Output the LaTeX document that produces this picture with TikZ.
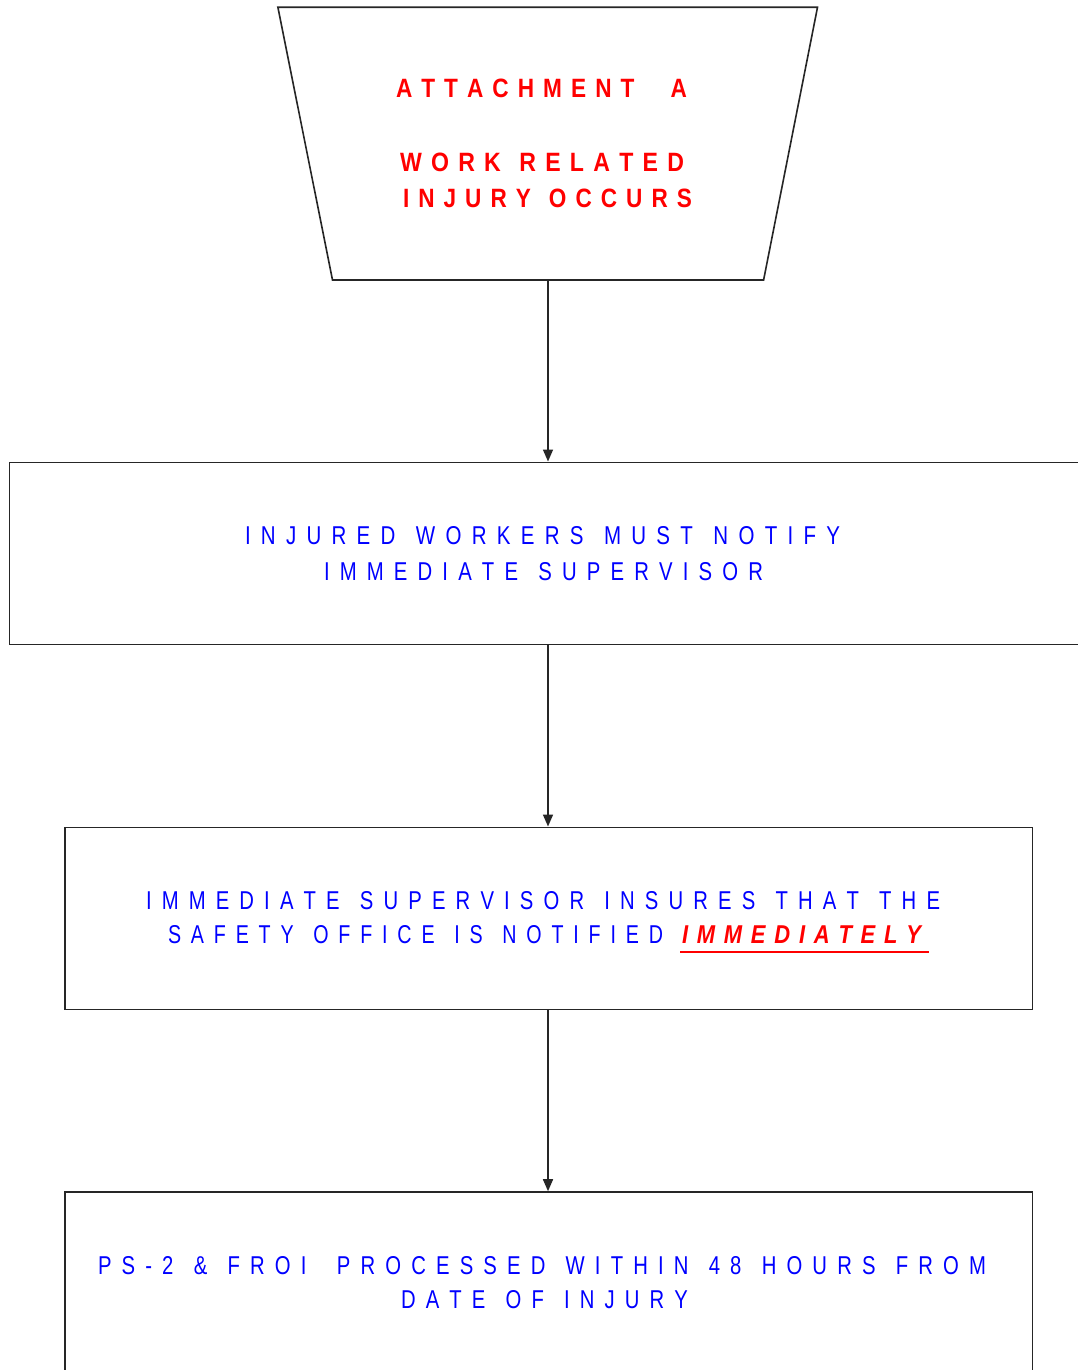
\documentclass[tikz,border=0pt]{standalone}
\usepackage{fontspec}
\setmainfont{Liberation Sans}
\usetikzlibrary{arrows.meta}
\newlength\lsamt
\def\lsloop#1{\ifx#1\relax\else\ifx#1|\else#1\fi\kern\lsamt\expandafter\lsloop\fi}
\newcommand\spaced[1]{\lsloop#1\relax\kern-\lsamt}
\newcommand\bluetxt[2]{\resizebox{#1}{\height}{\fontsize{25.8}{30}\selectfont\lsamt=0.5em\spaced{#2}}}
\newcommand\redtxt[2]{\resizebox{#1}{\height}{\fontsize{26.5}{30}\selectfont\bfseries\lsamt=0.4em\spaced{#2}}}
\newcommand\reditxt[2]{\resizebox{#1}{\height}{\fontsize{25.8}{30}\selectfont\bfseries\itshape\lsamt=0.4em\spaced{#2}}}
\tikzset{
  boxline/.style={draw=black!85, line width=1.6pt},
  stepbox/.style={boxline, rectangle, inner sep=0pt},
  lbl/.style={anchor=base west, inner sep=0pt, outer sep=0pt},
  conn/.style={draw=black!85, line width=1.6pt, -{Triangle[length=12pt,width=10pt]}},
}
\begin{document}
\begin{tikzpicture}[x=1pt,y=-1pt]
\clip (0,0) rectangle (1078,1370);
\fill[white] (0,0) rectangle (1078,1370);
% trapezoid
\draw[boxline] (277.9,7.3) -- (817.5,7.3) -- (763.6,280) -- (332.5,280) -- cycle;
\coordinate (trapbot) at (548,280);
\node[lbl, text=red] (tA) at (396,97.7) {\redtxt{291pt}{ATTACHMENT|||A}};
\node[lbl, text=red] (tB) at (400,171.7) {\redtxt{284pt}{WORK|RELATED}};
\node[lbl, text=red] (tC) at (403,207.3) {\redtxt{289pt}{INJURY|OCCURS}};
% boxes
\node[stepbox, minimum width=1080.4pt, minimum height=182pt] (b1) at (549.8,553.3) {};
\node[stepbox, minimum width=967.6pt, minimum height=182pt] (b2) at (548.8,918.3) {};
\node[stepbox, minimum width=967.6pt, minimum height=208pt] (b3) at (548.8,1296) {};
% box texts
\node[lbl, text=blue] (b1a) at (245,544.3) {\bluetxt{595pt}{INJURED|WORKERS|MUST|NOTIFY}};
\node[lbl, text=blue] (b1b) at (324,580.3) {\bluetxt{439pt}{IMMEDIATE|SUPERVISOR}};
\node[lbl, text=blue] (b2a) at (146,909.3) {\bluetxt{794pt}{IMMEDIATE|SUPERVISOR|INSURES|THAT|THE}};
\node[lbl, text=blue] (b2b) at (168,943.7) {\bluetxt{495pt}{SAFETY|OFFICE|IS|NOTIFIED}};
\node[lbl, text=red] (b2c) at (682,943.7) {\reditxt{239pt}{IMMEDIATELY}};
\draw[red, line width=2pt] (680,951.7) -- (928.6,951.7);
\node[lbl, text=blue] (b3a) at (98,1274) {\bluetxt{888pt}{PS-2|\&|FROI||PROCESSED|WITHIN|48|HOURS|FROM}};
\node[lbl, text=blue] (b3b) at (401,1308.7) {\bluetxt{287pt}{DATE|OF|INJURY}};
% connectors
\draw[conn] (trapbot) -- (trapbot |- b1.north);
\draw[conn] (trapbot |- b1.south) -- (trapbot |- b2.north);
\draw[conn] (trapbot |- b2.south) -- (trapbot |- b3.north);
\end{tikzpicture}
\end{document}
